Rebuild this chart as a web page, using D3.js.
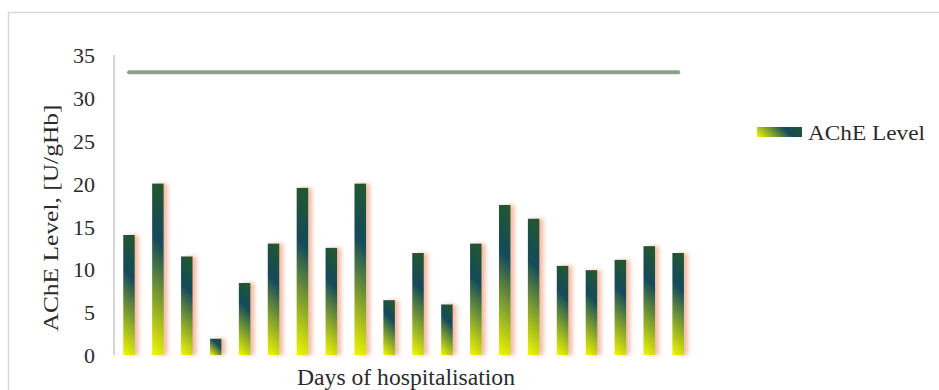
<!DOCTYPE html>
<html>
<head>
<meta charset="utf-8">
<script src="https://cdn.jsdelivr.net/npm/d3@7"></script>
<style>
  html, body { margin: 0; padding: 0; background: #ffffff; }
  svg { display: block; }
</style>
</head>
<body>
<svg id="chart" width="939" height="390"></svg>
<script>
// Days of hospitalisation (one bar per day)
const days = d3.range(1, 21).map(String);
// AChE level per day, U/gHb
const acheLevel = [14, 20, 11.5, 1.9, 8.4, 13, 19.5, 12.5, 20, 6.4,
                   11.9, 5.9, 13, 17.5, 15.9, 10.4, 9.9, 11.1, 12.7, 11.9];
// Reference (normal) level drawn as a flat line across all days
const normalLevel = [33, 33, 33, 33, 33, 33, 33, 33, 33, 33,
                     33, 33, 33, 33, 33, 33, 33, 33, 33, 33];
const yTicks = [0, 5, 10, 15, 20, 25, 30, 35];

const FONT = "'Liberation Serif', 'Times New Roman', serif";
const INK = "#2b2b2b";

const svg = d3.select("#chart");
const defs = svg.append("defs");

// soft peach shadow to the right of each bar
const shadow = defs.append("filter").attr("id", "barShadow")
  .attr("x", "-50%").attr("y", "-20%").attr("width", "250%").attr("height", "140%");
shadow.append("feDropShadow")
  .attr("dx", 4).attr("dy", 0).attr("stdDeviation", 2.2)
  .attr("flood-color", "#e8906a").attr("flood-opacity", 0.6);

// chart frame
svg.append("rect")
  .attr("x", 8.5).attr("y", 12.5).attr("width", 960).attr("height", 400)
  .attr("fill", "none").attr("stroke", "#d9d9d9").attr("stroke-width", 1.5);

const x = d3.scaleBand().domain(days).range([114, 693.2])
  .paddingInner(0.6).paddingOuter(0.32);
const y = d3.scaleLinear().domain([0, 35]).range([355, 55]);

// diagonal gradient: yellow bottom-left -> teal -> dark green top-right
const stops = [
  { o: 0, c: "#f2f700" },
  { o: 0.66, c: "#124a5c" },
  { o: 1, c: "#26582a" }
];
function addGradient(id, left, top, w, h) {
  const k = (w + h) / 2;
  const g = defs.append("linearGradient").attr("id", id)
    .attr("gradientUnits", "userSpaceOnUse")
    .attr("x1", left).attr("y1", top + h)
    .attr("x2", left + k).attr("y2", top + h - k);
  stops.forEach(s => g.append("stop").attr("offset", s.o).attr("stop-color", s.c));
}

// y axis (labels only, no ticks)
const yAxis = d3.axisLeft(y).tickValues(yTicks).tickSize(0).tickPadding(0);
const yg = svg.append("g").attr("transform", "translate(95,0)").call(yAxis);
yg.attr("font-family", null).attr("font-size", null);
yg.select(".domain").remove();
yg.selectAll("text")
  .attr("x", 0).attr("dy", "0.35em")
  .style("font-family", FONT)
  .style("font-size", "22px").style("fill", INK);

svg.append("line")
  .attr("x1", 114).attr("x2", 114).attr("y1", y(35)).attr("y2", y(0))
  .attr("stroke", "#c8c8c8").attr("stroke-width", 1.5);

// bars
const bars = svg.append("g");
acheLevel.forEach((v, i) => {
  const left = x(days[i]);
  const top = y(v);
  const w = x.bandwidth();
  const h = y(0) - y(v);
  const id = "grad" + i;
  addGradient(id, left, top, w, h);
  bars.append("rect")
    .attr("x", left).attr("y", top).attr("width", w).attr("height", h)
    .attr("fill", `url(#${id})`)
    .attr("filter", "url(#barShadow)");
});

// normal level line
const line = d3.line()
  .x((d, i) => x(days[i]) + x.bandwidth() / 2)
  .y(d => y(d));
svg.append("path")
  .datum(normalLevel)
  .attr("d", line)
  .attr("fill", "none")
  .attr("stroke", "#8ba190")
  .attr("stroke-width", 4)
  .attr("stroke-linecap", "round");

// axis titles
svg.append("text")
  .attr("transform", "translate(58,218) rotate(-90)")
  .attr("text-anchor", "middle")
  .attr("textLength", 227).attr("lengthAdjust", "spacingAndGlyphs")
  .style("font-family", FONT).style("font-size", "22px").style("fill", INK)
  .text("AChE Level, [U/gHb]");

svg.append("text")
  .attr("x", 297).attr("y", 385)
  .attr("textLength", 218).attr("lengthAdjust", "spacingAndGlyphs")
  .style("font-family", FONT).style("font-size", "23px").style("fill", INK)
  .text("Days of hospitalisation");

// legend
addGradient("legendGrad", 757, 127, 45, 10);
svg.append("rect")
  .attr("x", 757).attr("y", 127).attr("width", 45).attr("height", 10)
  .attr("fill", "url(#legendGrad)");
svg.append("text")
  .attr("x", 808).attr("y", 139.5)
  .attr("textLength", 117).attr("lengthAdjust", "spacingAndGlyphs")
  .style("font-family", FONT).style("font-size", "21px").style("fill", INK)
  .text("AChE Level");
</script>
</body>
</html>
